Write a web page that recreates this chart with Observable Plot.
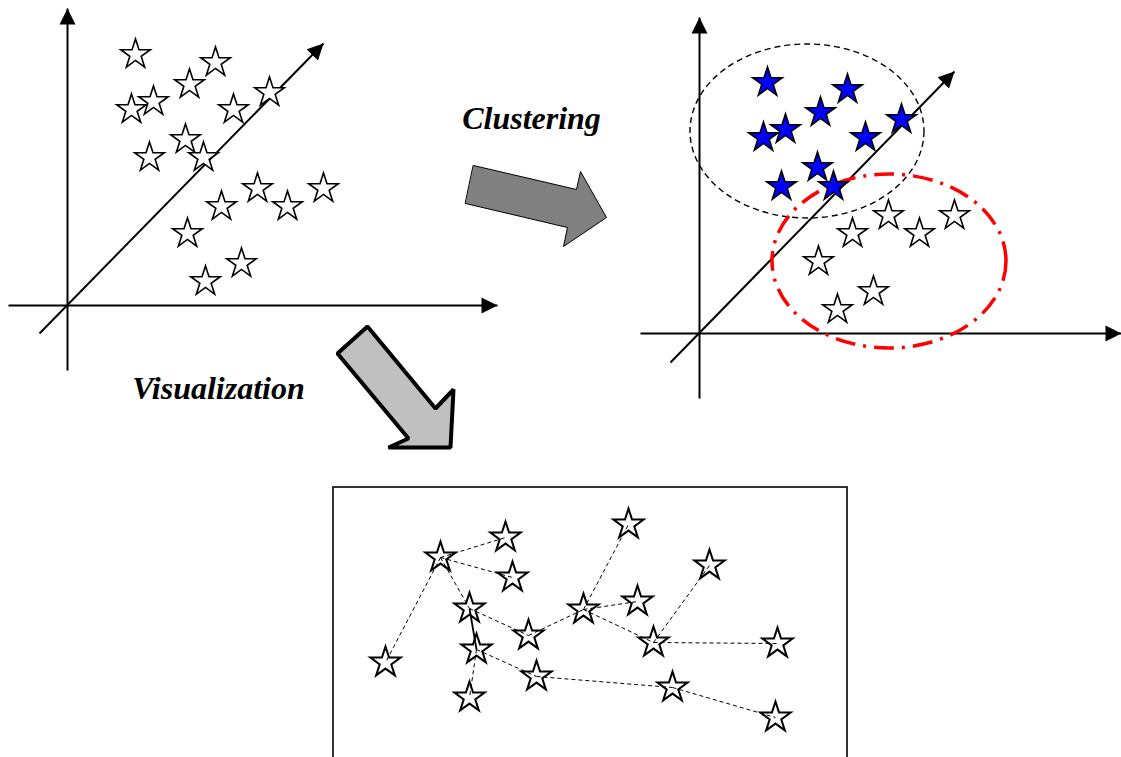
<!DOCTYPE html>
<html>
<head>
<meta charset="utf-8">
<script src="https://cdn.jsdelivr.net/npm/d3@7"></script>
<script src="https://cdn.jsdelivr.net/npm/@observablehq/plot@0.6"></script>
<style>
  html, body { margin: 0; padding: 0; background: #fff; }
  #chart svg { display: block; }
</style>
</head>
<body>
<div id="chart"></div>
<script>
// ---------- data (diagram coordinates) ----------
// Panel 1: raw points
const rawStars = [
  [135,54],[215,62],[189,84],[131,109],[153,101],[233,109],[269,92],[185,139],
  [149,157],[203,157],[257,188],[323,188],[221,206],[287,206],[187,233],[241,263],[205,281]
];
// Panel 2: clustered points
const clusterBlue = [
  [767,82],[847,89],[820,112],[763,137],[785,129],[865,137],[901,119],[817,167],[781,186],[833,186]
];
const clusterWhite = [
  [888,215],[954,215],[852,233],[919,233],[818,261],[873,291],[837,309]
];
// axis segments [x1,y1,x2,y2] (x2,y2 = arrow tip)
const axes = [
  [67,370,67,8],[8,305,497,305],[39,333,323,43],
  [699,398,699,17],[640,333,1121,333],[670,362,954,71]
];
// cluster ellipses [cx, cy, rx, ry]
const blackEllipse = [807,131,117,87];
const redEllipse = [889,261,117,87];
// Panel 3: visualization nodes
const nodeNames = ["A","B","C","D","E","F","G","H","I","J","K","L","M","N","O","P","Q"];
const nodeX = [440,505,512,469,528,476,385,469,536,628,583,637,709,653,777,672,775];
const nodeY = [557,537,577,608,635,649,662,697,676,524,609,601,565,642,643,687,717];
const edges = [
  ["A","B"],["A","C"],["A","G"],["A","D"],["D","E"],["F","H"],["F","I"],
  ["E","K"],["K","J"],["K","L"],["K","N"],["N","M"],["N","O"],["I","P"],["P","Q"]
];
const solidEdges = [["D","F"]];
const vizBox = [333,487,847,760];
// block arrows
const clusterArrow = [[473,165],[576,189],[580,171],[606,217],[563,246],[567,227],[465,203]];
const vizArrow = [[367,326],[337,353],[408,438],[388,447],[450,447],[453,389],[435,408]];
// labels
const labels = [
  {text: "Clustering", x: 531, y: 118},
  {text: "Visualization", x: 218, y: 388}
];

// ---------- helpers ----------
const nodes = nodeNames.map((n, i) => ({name: n, x: nodeX[i], y: nodeY[i]}));
const byName = new Map(nodes.map(d => [d.name, d]));
const edgeRows = edges.map(([a, b]) => ({a: byName.get(a), b: byName.get(b)}));
const solidRows = solidEdges.map(([a, b]) => ({a: byName.get(a), b: byName.get(b)}));
const axisRows = axes.map(([x1,y1,x2,y2]) => ({x1,y1,x2,y2, angle: Math.atan2(x2-x1, y1-y2) * 180 / Math.PI}));

const arrowHead = {
  draw(context) {
    const L = 16, W = 16;
    context.moveTo(0, 0);
    context.lineTo(W/2, L);
    context.lineTo(-W/2, L);
    context.closePath();
  }
};

function ellipseMark([cx, cy, rx, ry], style) {
  return (index, scales) => {
    const ns = "http://www.w3.org/2000/svg";
    const e = document.createElementNS(ns, "ellipse");
    const x0 = scales.x(cx), y0 = scales.y(cy);
    e.setAttribute("cx", x0);
    e.setAttribute("cy", y0);
    e.setAttribute("rx", Math.abs(scales.x(cx + rx) - x0));
    e.setAttribute("ry", Math.abs(scales.y(cy + ry) - y0));
    e.setAttribute("fill", "none");
    for (const [k, v] of Object.entries(style)) e.setAttribute(k, v);
    return e;
  };
}

const W = 1121, H = 757;
const chart = Plot.plot({
  width: W,
  height: H,
  margin: 0,
  x: {domain: [0, W], range: [0, W], axis: null},
  y: {domain: [0, H], range: [0, H], axis: null},
  style: {background: "#fff", overflow: "visible"},
  marks: [
    // axes
    Plot.link(axisRows, {x1: "x1", y1: "y1", x2: "x2", y2: "y2", stroke: "#000", strokeWidth: 2}),
    Plot.dot(axisRows, {x: "x2", y: "y2", symbol: arrowHead, rotate: "angle", fill: "#000", stroke: "none"}),
    // ellipses
    ellipseMark(blackEllipse, {stroke: "#000", "stroke-width": 1.4, "stroke-dasharray": "6,4"}),
    ellipseMark(redEllipse, {stroke: "#f00", "stroke-width": 3.5, "stroke-dasharray": "20,8,3,8"}),
    // stars panel 1 & 2
    Plot.dot(rawStars, {x: d => d[0], y: d => d[1], symbol: "star", r: 9.3, fill: "#fff", stroke: "#000", strokeWidth: 1.6}),
    Plot.dot(clusterWhite, {x: d => d[0], y: d => d[1], symbol: "star", r: 9.3, fill: "#fff", stroke: "#000", strokeWidth: 1.6}),
    Plot.dot(clusterBlue, {x: d => d[0], y: d => d[1], symbol: "star", r: 9.3, fill: "#0000ff", stroke: "#000", strokeWidth: 1.6}),
    // block arrows
    Plot.line(clusterArrow, {x: d => d[0], y: d => d[1], curve: "linear-closed", fill: "#808080", stroke: "#000", strokeWidth: 1}),
    Plot.line(vizArrow, {x: d => d[0], y: d => d[1], curve: "linear-closed", fill: "#c0c0c0", stroke: "#000", strokeWidth: 4, strokeLinejoin: "miter"}),
    // labels
    Plot.text(labels, {x: "x", y: "y", text: "text", fontSize: 32, fontWeight: "bold", fontStyle: "italic", fontFamily: "Liberation Serif", fill: "#000"}),
    // panel 3 box
    Plot.rect([vizBox], {x1: d => d[0], y1: d => d[1], x2: d => d[2], y2: d => d[3], fill: "none", stroke: "#000", strokeWidth: 1.6}),
    // edges
    Plot.link(edgeRows, {x1: d => d.a.x, y1: d => d.a.y, x2: d => d.b.x, y2: d => d.b.y, stroke: "#000", strokeWidth: 1, strokeDasharray: "4,3"}),
    Plot.link(solidRows, {x1: d => d.a.x, y1: d => d.a.y, x2: d => d.b.x, y2: d => d.b.y, stroke: "#000", strokeWidth: 1.8}),
    // nodes
    Plot.dot(nodes, {x: "x", y: "y", symbol: "star", r: 9.5, fill: "none", stroke: "#000", strokeWidth: 2})
  ]
});
document.getElementById("chart").appendChild(chart);
</script>
</body>
</html>
